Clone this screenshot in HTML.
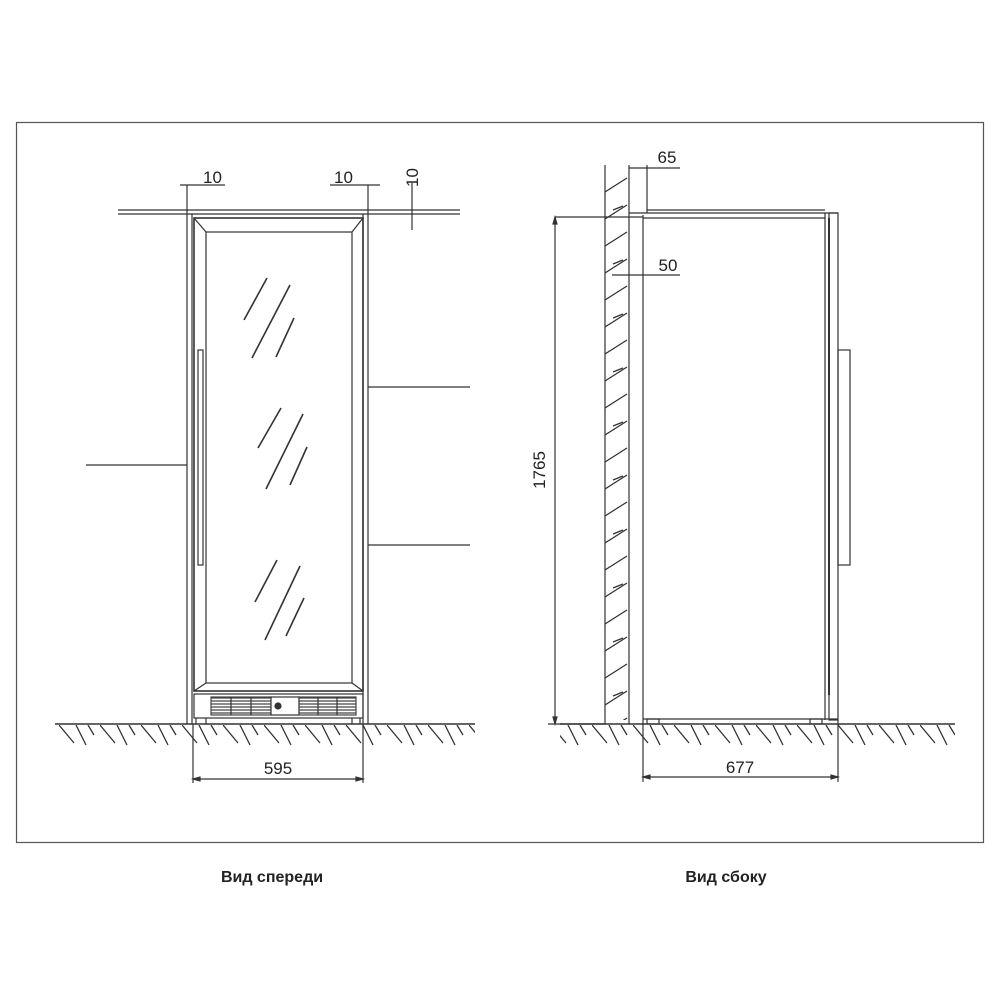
<!DOCTYPE html>
<html><head><meta charset="utf-8"><style>
html,body{margin:0;padding:0;background:#fff}
svg{display:block}
text{font-family:"Liberation Sans",sans-serif;fill:#222}
</style></head><body>
<svg width="1000" height="1000" viewBox="0 0 1000 1000" xmlns="http://www.w3.org/2000/svg">
<defs>
<pattern id="fh" x="59" y="725" width="41" height="25" patternUnits="userSpaceOnUse">
<line x1="0" y1="0" x2="15" y2="18" stroke="#333" stroke-width="1.3"/>
<line x1="17" y1="0" x2="27" y2="20" stroke="#333" stroke-width="1.3"/>
<line x1="29" y1="0" x2="35" y2="10" stroke="#333" stroke-width="1.3"/>
</pattern>
<pattern id="wh" x="605" y="170" width="24" height="54" patternUnits="userSpaceOnUse">
<line x1="0" y1="22" x2="22" y2="8" stroke="#333" stroke-width="1.3"/>
<line x1="8" y1="40" x2="18" y2="36" stroke="#333" stroke-width="1.3"/>
<line x1="0" y1="49" x2="22" y2="35" stroke="#333" stroke-width="1.3"/>
</pattern>
<pattern id="gr" x="0" y="697" width="200" height="3" patternUnits="userSpaceOnUse">
<line x1="0" y1="1" x2="200" y2="1" stroke="#444" stroke-width="1.2"/>
</pattern>
</defs>
<g fill="none" stroke="#333" stroke-width="1.2">
<rect x="16.5" y="122.5" width="967" height="720" stroke="#555"/>

<!-- FRONT VIEW -->
<line x1="118" y1="210" x2="460" y2="210"/>
<line x1="118" y1="214" x2="460" y2="214"/>
<line x1="187" y1="185" x2="187" y2="724"/>
<line x1="192" y1="214" x2="192" y2="724"/>
<line x1="363" y1="214" x2="363" y2="724"/>
<line x1="368" y1="185" x2="368" y2="724"/>
<line x1="180" y1="185" x2="225" y2="185"/>
<line x1="330" y1="185" x2="380" y2="185"/>
<line x1="412" y1="183" x2="412" y2="230"/>
<rect x="194" y="218" width="169" height="473" stroke-width="1.6"/>
<rect x="206" y="232" width="146" height="451"/>
<line x1="194" y1="218" x2="206" y2="232"/><line x1="363" y1="218" x2="352" y2="232"/>
<line x1="194" y1="691" x2="206" y2="683"/><line x1="363" y1="691" x2="352" y2="683"/>
<rect x="198" y="350" width="5" height="215"/>
<rect x="194" y="694" width="169" height="24"/>
<rect x="211" y="697" width="60" height="18" fill="url(#gr)" stroke="#444"/>
<line x1="231" y1="697" x2="231" y2="715"/><line x1="251" y1="697" x2="251" y2="715"/>
<rect x="271" y="697" width="28" height="18" fill="#fff"/>
<circle cx="278" cy="706" r="3" fill="#333"/>
<rect x="299" y="697" width="57" height="18" fill="url(#gr)" stroke="#444"/>
<line x1="318" y1="697" x2="318" y2="715"/><line x1="337" y1="697" x2="337" y2="715"/>
<line x1="196" y1="718" x2="196" y2="724"/><line x1="206" y1="718" x2="206" y2="724"/>
<line x1="352" y1="718" x2="352" y2="724"/><line x1="360" y1="718" x2="360" y2="724"/>
<g stroke-width="1.6">
<line x1="267" y1="278" x2="244" y2="320"/><line x1="290" y1="285" x2="252" y2="358"/><line x1="294" y1="318" x2="276" y2="357"/>
<line x1="281" y1="408" x2="258" y2="448"/><line x1="303" y1="414" x2="266" y2="489"/><line x1="307" y1="447" x2="290" y2="485"/>
<line x1="277" y1="560" x2="255" y2="602"/><line x1="300" y1="566" x2="265" y2="640"/><line x1="304" y1="598" x2="286" y2="636"/>
</g>
<line x1="86" y1="465" x2="187" y2="465"/>
<line x1="368" y1="387" x2="470" y2="387"/>
<line x1="368" y1="545" x2="470" y2="545"/>
<line x1="55" y1="724" x2="475" y2="724" stroke-width="1.5"/>
<rect x="55" y="725" width="420" height="22" fill="url(#fh)" stroke="none"/>
<line x1="193" y1="724" x2="193" y2="783"/><line x1="363" y1="724" x2="363" y2="783"/>
<line x1="193" y1="779" x2="363" y2="779"/>
<path d="M193 779 l7 -2 v4 z M363 779 l-7 -2 v4 z" fill="#333"/>

<!-- SIDE VIEW -->
<line x1="605" y1="165" x2="605" y2="724"/>
<line x1="629" y1="165" x2="629" y2="724"/>
<rect x="605" y="170" width="24" height="550" fill="url(#wh)" stroke="none"/>
<line x1="647" y1="165" x2="647" y2="213"/>
<line x1="629" y1="168" x2="680" y2="168"/>
<line x1="612" y1="275" x2="680" y2="275"/>
<line x1="643" y1="215" x2="643" y2="724"/>
<line x1="647" y1="210" x2="825" y2="210"/>
<line x1="629" y1="213" x2="838" y2="213"/>
<line x1="555" y1="217" x2="643" y2="217"/>
<line x1="643" y1="218" x2="825" y2="218"/>
<line x1="825" y1="213" x2="825" y2="720"/>
<line x1="829" y1="218" x2="829" y2="695" stroke-width="2"/>
<rect x="829" y="213" width="9" height="507"/>
<rect x="838" y="350" width="12" height="215"/>
<line x1="643" y1="719" x2="838" y2="719"/>
<rect x="647" y="719" width="12" height="5"/><rect x="810" y="719" width="12" height="5"/>
<line x1="555" y1="217" x2="555" y2="724"/>
<path d="M555 217 l-2 7 h4 z M555 724 l-2 -7 h4 z" fill="#333"/>
<line x1="548" y1="724" x2="605" y2="724"/>
<line x1="560" y1="724" x2="955" y2="724" stroke-width="1.5"/>
<rect x="560" y="725" width="395" height="22" fill="url(#fh)" stroke="none"/>
<line x1="643" y1="724" x2="643" y2="782"/><line x1="838" y1="720" x2="838" y2="782"/>
<line x1="643" y1="777" x2="838" y2="777"/>
<path d="M643 777 l7 -2 v4 z M838 777 l-7 -2 v4 z" fill="#333"/>
</g>
<g font-size="17">
<text x="203" y="183">10</text>
<text x="334" y="183">10</text>
<text x="418" y="203" transform="rotate(-90 410 195)">10</text>
<text x="278" y="774" text-anchor="middle">595</text>
<text x="667" y="163" text-anchor="middle">65</text>
<text x="668" y="271" text-anchor="middle">50</text>
<text x="545" y="470" text-anchor="middle" transform="rotate(-90 545 470)">1765</text>
<text x="740" y="773" text-anchor="middle">677</text>
</g>
<g font-size="16" font-weight="bold">
<text x="272" y="882" text-anchor="middle">Вид спереди</text>
<text x="726" y="882" text-anchor="middle">Вид сбоку</text>
</g>
</svg>
</body></html>
